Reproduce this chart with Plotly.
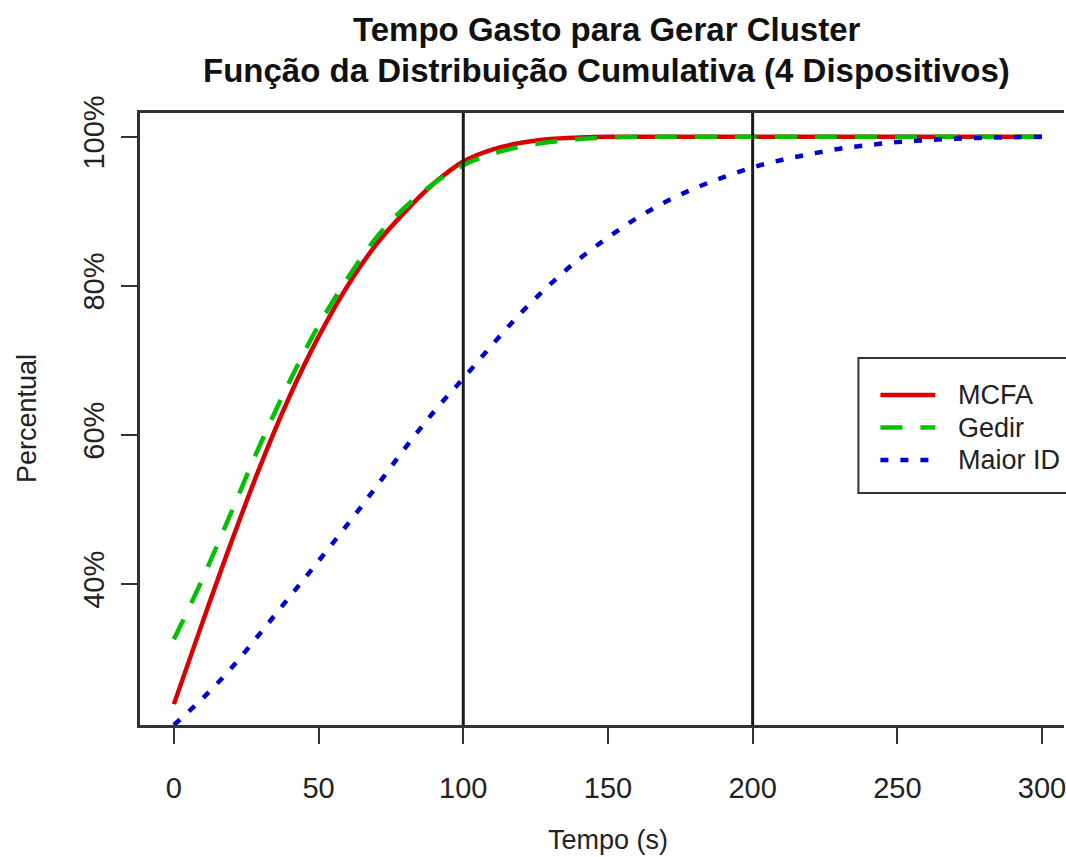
import plotly.graph_objects as go

# ---- data ----
tempo = [0, 10, 20, 30, 40, 50, 60, 70, 80, 90, 100, 110, 120, 130, 140, 150,
         160, 170, 180, 190, 200, 210, 220, 230, 240, 250, 260, 270, 280, 290, 300]

mcfa = [23.9, 35.0, 45.8, 56.0, 65.2, 73.2, 80.0, 85.6, 90.0, 93.8, 96.7, 98.3, 99.2, 99.7, 99.9, 100.0,
        100.0, 100.0, 100.0, 100.0, 100.0, 100.0, 100.0, 100.0, 100.0, 100.0, 100.0, 100.0, 100.0, 100.0, 100.0]

gedir = [32.6, 40.8, 49.8, 58.9, 67.2, 74.7, 81.0, 86.5, 90.6, 93.8, 96.2, 97.7, 98.7, 99.3, 99.7, 99.9,
         100.0, 100.0, 100.0, 100.0, 100.0, 100.0, 100.0, 100.0, 100.0, 100.0, 100.0, 100.0, 100.0, 100.0, 100.0]

maior_id = [21.1, 24.7, 28.8, 33.5, 38.3, 43.1, 48.0, 53.1, 58.3, 63.2, 67.6, 72.1, 76.4, 80.2, 83.6, 86.5,
            89.1, 91.3, 93.1, 94.6, 95.9, 96.9, 97.7, 98.4, 98.9, 99.3, 99.55, 99.75, 99.88, 99.95, 100.0]

series_names = ["MCFA", "Gedir", "Maior ID"]
series_colors = ["#D80000", "#00C000", "#0000CD"]
series_dash = ["solid", "22px,18px", "8px,12px"]

x_ticks = [0, 50, 100, 150, 200, 250, 300]
y_ticks = [40, 60, 80, 100]
y_tick_labels = ["40%", "60%", "80%", "100%"]
vlines = [100, 200]

title_line1 = "Tempo Gasto para Gerar Cluster"
title_line2 = "Função da Distribuição Cumulativa (4 Dispositivos)"
x_title = "Tempo (s)"
y_title = "Percentual"

FONT = "Liberation Sans, Arial, Helvetica, sans-serif"

fig = go.Figure()
for name, ys, col, dash in zip(series_names, [mcfa, gedir, maior_id], series_colors, series_dash):
    fig.add_trace(go.Scatter(
        x=tempo, y=ys, mode="lines", name=name, showlegend=False,
        line=dict(color=col, width=4.5, dash=dash, shape="spline", smoothing=1.0),
    ))

for v in vlines:
    fig.add_shape(type="line", xref="x", yref="paper", x0=v, x1=v, y0=0, y1=1,
                  line=dict(color="#1a1a1a", width=3), layer="above")

# ---- legend box (R-style, partly outside the right edge) ----
LEG_X0, LEG_X1, LEG_Y0, LEG_Y1 = 0.7775, 1.05, 0.379, 0.5997
LEG_LINE_X0, LEG_LINE_X1, LEG_TEXT_X = 0.8013, 0.8607, 0.8834
LEG_ROW0, LEG_ROW_STEP = 0.5392, 0.0531
fig.add_shape(type="rect", xref="paper", yref="paper", x0=LEG_X0, x1=LEG_X1, y0=LEG_Y0, y1=LEG_Y1,
              line=dict(color="#333", width=2), fillcolor="white", layer="above")
annotations = []
for i, (name, col, dash) in enumerate(zip(series_names, series_colors, series_dash)):
    yy = LEG_ROW0 - i * LEG_ROW_STEP
    fig.add_shape(type="line", xref="paper", yref="paper", x0=LEG_LINE_X0, x1=LEG_LINE_X1, y0=yy, y1=yy,
                  line=dict(color=col, width=4.5, dash=dash), layer="above")
    annotations.append(dict(text=name, xref="paper", yref="paper", x=LEG_TEXT_X, y=yy,
                            xanchor="left", yanchor="middle", showarrow=False,
                            font=dict(family=FONT, size=27, color="#222")))

annotations += [
    dict(text="<b>" + title_line1 + "</b>", xref="paper", yref="paper", x=0.505, y=1,
         yshift=84, yanchor="middle", xanchor="center", showarrow=False,
         font=dict(family=FONT, size=33, color="#111")),
    dict(text="<b>" + title_line2 + "</b>", xref="paper", yref="paper", x=0.505, y=1,
         yshift=43, yanchor="middle", xanchor="center", showarrow=False,
         font=dict(family=FONT, size=33, color="#111")),
    dict(text=x_title, xref="x", yref="paper", x=150, y=0, yshift=-115,
         yanchor="middle", xanchor="center", showarrow=False,
         font=dict(family=FONT, size=27, color="#222")),
    dict(text=y_title, xref="paper", yref="paper", x=0, y=0.5, xshift=-113,
         yanchor="middle", xanchor="center", showarrow=False, textangle=-90,
         font=dict(family=FONT, size=27, color="#222")),
]

fig.update_layout(
    width=1066, height=857,
    margin=dict(l=140, r=0, t=113, b=132),
    paper_bgcolor="white", plot_bgcolor="white",
    font=dict(family=FONT, size=29, color="#222"),
    showlegend=False,
    annotations=annotations,
)

fig.update_xaxes(
    range=[-11.72, 307.6], tickvals=x_ticks, ticktext=[str(t) for t in x_ticks],
    showgrid=False, zeroline=False,
    showline=True, mirror=True, linecolor="#333", linewidth=2.5,
    ticks="outside", ticklen=16, tickwidth=2, tickcolor="#333",
    ticklabelstandoff=19, ticklabeloverflow="allow",
    tickfont=dict(family=FONT, size=29, color="#222"),
)
fig.update_yaxes(
    range=[21.1, 103.2], tickvals=y_ticks, ticktext=y_tick_labels,
    showgrid=False, zeroline=False,
    showline=True, mirror=False, linecolor="#333", linewidth=2.5,
    ticks="outside", ticklen=16, tickwidth=2, tickcolor="#333",
    tickangle=-90, ticklabelstandoff=6, ticklabeloverflow="allow",
    tickfont=dict(family=FONT, size=29, color="#222"),
)

fig.write_html("out.html",
               config={"displayModeBar": False},
               post_script="document.body.style.margin='0';document.body.style.overflow='hidden';")
